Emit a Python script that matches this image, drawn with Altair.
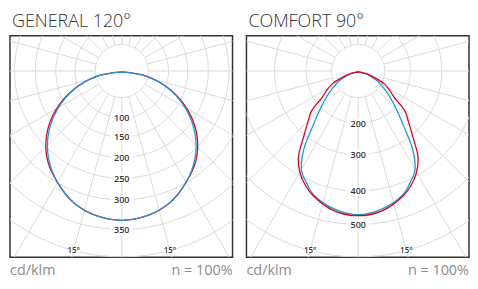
import altair as alt
import pandas as pd

# ---------------- data (cd/klm) ----------------
GEN_TITLE = "GENERAL 120°"
GEN_ANGLES = [-90, -80, -70, -60, -50, -40, -30, -20, -10, 0, 10, 20, 30, 40, 50, 60, 70, 80, 90]
GEN_C0 = [0, 48, 112, 175, 228, 269, 298, 318, 329, 333, 329, 318, 298, 269, 228, 175, 112, 48, 0]
GEN_C90 = [0, 48, 110, 170, 222, 265, 298, 318, 329, 333, 329, 318, 298, 265, 222, 170, 110, 48, 0]
GEN_RING_LABELS = [100, 150, 200, 250, 300, 350]
GEN_RINGS = [50, 100, 150, 200, 250, 300, 350, 400]

COM_TITLE = "COMFORT 90°"
COM_ANGLES = [-90, -80, -75, -70, -65, -60, -55, -50, -45, -40, -35, -30, -25, -20, -10, 0,
              10, 20, 25, 30, 35, 40, 45, 50, 55, 60, 65, 70, 75, 80, 90]
COM_C0 = [0, 19, 42, 73, 111, 137, 167, 229, 261, 304, 357, 390, 415, 435, 462, 471,
          462, 435, 415, 390, 357, 304, 261, 229, 167, 137, 111, 73, 42, 19, 0]
COM_C90 = [0, 15, 35, 52, 77, 101, 131, 167, 209, 259, 332, 382, 407, 432, 457, 468,
           457, 432, 407, 382, 332, 259, 209, 167, 131, 101, 77, 52, 35, 15, 0]
COM_RING_LABELS = [200, 300, 400, 500]
COM_RINGS = [100, 200, 300, 400, 500, 600]

ANGLE_TICKS = [-15, 15]
ANGLE_TICK_TEXT = ["15°", "15°"]
UNIT_TEXT = "cd/klm"
N_TEXT = "n = 100%"

# radial scale of each diagram (value -> pixel distance from the light centre)
K = 0.99
GEN_SCALE_V = [0, 50, 100, 150, 200, 250, 300, 350, 400, 700]
GEN_SCALE_R = [r * K for r in [0, 27, 47.5, 67, 88, 109, 131, 161, 189, 360]]
COM_SCALE_V = [0, 100, 200, 300, 400, 500, 600, 1000]
COM_SCALE_R = [r * K for r in [0, 27, 53, 85, 122, 156, 189, 330]]

W, H = 224, 223
CX, CY = 112.5, 35.5  # light centre inside the plot box

RED = "#e2001a"
BLUE = "#1e98d6"
GRID = "#dadada"
FONT = "Open Sans"


def radial_expr(vs, rs, field="datum.v"):
    n = len(vs)
    seg = lambda i: f"({rs[i]} + ({field} - {vs[i]}) * {(rs[i+1]-rs[i])/(vs[i+1]-vs[i])})"
    e = seg(n - 2)
    for i in range(n - 2, 0, -1):
        e = f"({field} <= {vs[i]} ? {seg(i-1)} : {e})"
    return e


def polar(chart, vs, rs):
    return chart.transform_calculate(
        r=radial_expr(vs, rs),
    ).transform_calculate(
        px="datum.r * sin(datum.a * PI / 180)",
        py="datum.r * cos(datum.a * PI / 180)",
    )


XS = alt.Scale(domain=[-CX, W - CX], nice=False, zero=False)
YS = alt.Scale(domain=[-CY, H - CY], nice=False, zero=False, reverse=True)


def xy():
    return dict(x=alt.X("px:Q", scale=XS, axis=None), y=alt.Y("py:Q", scale=YS, axis=None))


def panel(title, angles, c0, c90, rings, ring_labels, sv, sr, label_v, top_red):
    ring_rows = [{"ring": v, "v": v, "a": a} for v in rings for a in range(0, 361, 3)]
    rings_ch = polar(alt.Chart(pd.DataFrame(ring_rows)), sv, sr).mark_line(
        color=GRID, strokeWidth=1, clip=True
    ).encode(**xy(), detail="ring:N", order="a:Q")

    spoke_rows = [{"a": a, "v": v} for a in range(0, 360, 15) for v in (rings[0], sv[-1])]
    spokes = polar(alt.Chart(pd.DataFrame(spoke_rows)), sv, sr).mark_line(
        color=GRID, strokeWidth=1, clip=True
    ).encode(**xy(), detail="a:N", order="v:Q")

    lab_df = pd.DataFrame({"v": ring_labels, "a": [0] * len(ring_labels),
                           "t": [str(v) for v in ring_labels]})
    lab_base = polar(alt.Chart(lab_df), sv, sr)
    lab_bg = lab_base.mark_point(
        shape="M-1.1,-0.5L1.1,-0.5L1.1,0.5L-1.1,0.5Z", filled=True, color="white",
        opacity=1, size=400
    ).encode(**xy())
    lab_txt = lab_base.mark_text(
        font=FONT, fontSize=9, fontWeight=600, color="#333", baseline="middle", dy=0.5
    ).encode(**xy(), text="t:N")

    ang_df = pd.DataFrame({"a": ANGLE_TICKS, "v": [label_v] * 2, "t": ANGLE_TICK_TEXT})
    ang_base = polar(alt.Chart(ang_df), sv, sr)
    ang_bg = ang_base.mark_point(
        shape="M-1,-0.6L1,-0.6L1,0.6L-1,0.6Z", filled=True, color="white", opacity=1, size=144
    ).encode(**xy())
    ang_txt = ang_base.mark_text(
        font=FONT, fontSize=8, fontWeight=600, color="#333", baseline="middle", dy=0.5
    ).encode(**xy(), text="t:N")

    red_df = pd.DataFrame({"a": angles, "v": c0})
    blue_df = pd.DataFrame({"a": angles, "v": c90})
    red = polar(alt.Chart(red_df), sv, sr).mark_line(
        color=RED, strokeWidth=1.3, yOffset=1, interpolate="catmull-rom"
    ).encode(**xy(), order="a:Q")
    blue = polar(alt.Chart(blue_df), sv, sr).mark_line(
        color=BLUE, strokeWidth=1.3, yOffset=1, interpolate="catmull-rom"
    ).encode(**xy(), order="a:Q")
    curves = [blue, red] if top_red else [red, blue]

    txt = pd.DataFrame({"k": [0]})
    ttl = alt.Chart(txt).mark_text(
        text=title, font=FONT, fontSize=18, fontWeight=300, color="#333",
        align="left", baseline="alphabetic"
    ).encode(x=alt.value(2), y=alt.value(-9))
    unit = alt.Chart(txt).mark_text(
        text=UNIT_TEXT, font=FONT, fontSize=14.5, fontWeight=400, color="#8c8c8c",
        align="left", baseline="alphabetic"
    ).encode(x=alt.value(0), y=alt.value(H + 18))
    nn = alt.Chart(txt).mark_text(
        text=N_TEXT, font=FONT, fontSize=14.5, fontWeight=400, color="#8c8c8c",
        align="right", baseline="alphabetic"
    ).encode(x=alt.value(W), y=alt.value(H + 18))

    return alt.layer(rings_ch, spokes, lab_bg, lab_txt, ang_bg, ang_txt, *curves,
                     ttl, unit, nn).properties(width=W, height=H)


p1 = panel(GEN_TITLE, GEN_ANGLES, GEN_C0, GEN_C90, GEN_RINGS, GEN_RING_LABELS,
           GEN_SCALE_V, GEN_SCALE_R, 400, False)
p2 = panel(COM_TITLE, COM_ANGLES, COM_C0, COM_C90, COM_RINGS, COM_RING_LABELS,
           COM_SCALE_V, COM_SCALE_R, 600, True)

chart = alt.hconcat(p1, p2, spacing=12).properties(
    padding={"left": 1, "top": 3, "right": 0, "bottom": 0},
    background="white",
).configure_view(stroke="#333", strokeWidth=1.5)

chart.save("out.html", embed_options={"renderer": "svg", "actions": False})
